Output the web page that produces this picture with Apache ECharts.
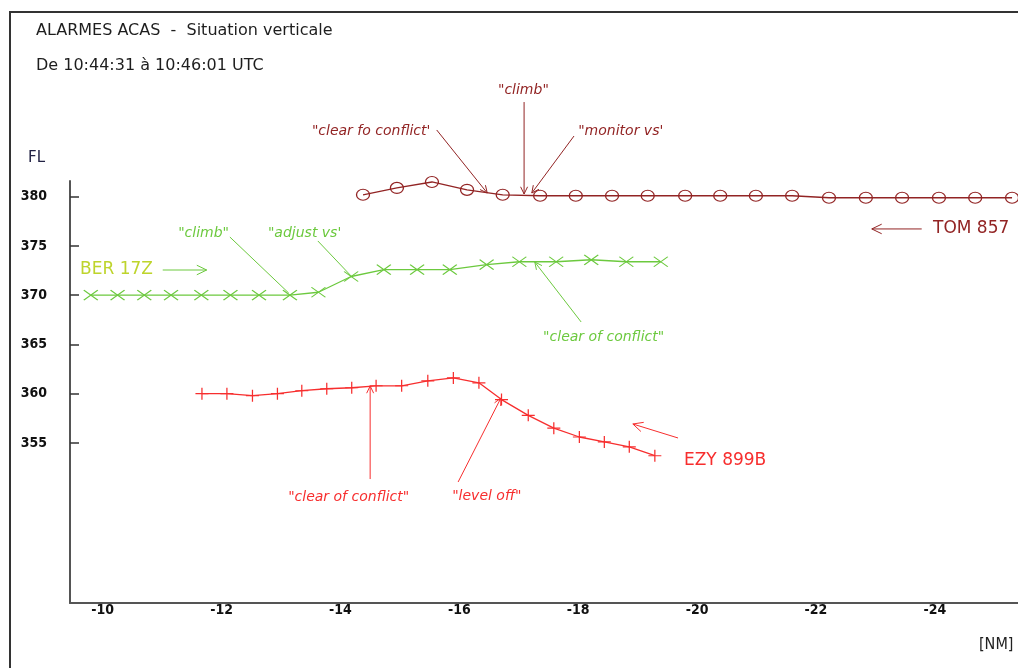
<!DOCTYPE html>
<html>
<head>
<meta charset="utf-8">
<script src="https://cdn.jsdelivr.net/npm/echarts@6/dist/echarts.min.js"></script>
<style>
  html, body { margin: 0; padding: 0; background: #ffffff; }
  #chart { width: 1018px; height: 668px; }
</style>
</head>
<body>
<div id="chart"></div>
<script>
// Distance to closest point of approach (NM) and flight level for each track
const tomDist = [-14.38, -14.95, -15.54, -16.13, -16.73, -17.36, -17.96, -18.57, -19.17, -19.80,
                 -20.39, -20.99, -21.60, -22.22, -22.84, -23.45, -24.07, -24.68, -25.30];
const tomFL   = [380.2, 380.9, 381.5, 380.7, 380.2, 380.1, 380.1, 380.1, 380.1, 380.1,
                 380.1, 380.1, 380.1, 379.9, 379.9, 379.9, 379.9, 379.9, 379.9];

const berDist = [-9.80, -10.25, -10.70, -11.15, -11.66, -12.15, -12.63, -13.15, -13.63, -14.18,
                 -14.73, -15.29, -15.84, -16.46, -17.01, -17.63, -18.22, -18.81, -19.39];
const berFL   = [370, 370, 370, 370, 370, 370, 370, 370, 370.3, 371.9,
                 372.6, 372.6, 372.6, 373.1, 373.4, 373.4, 373.6, 373.4, 373.4];

const ezyDist = [-11.67, -12.09, -12.52, -12.94, -13.35, -13.77, -14.19, -14.60, -15.03, -15.47,
                 -15.90, -16.33, -16.71, -17.16, -17.59, -18.02, -18.44, -18.86, -19.29];
const ezyFL   = [360.0, 360.0, 359.8, 360.0, 360.3, 360.5, 360.6, 360.8, 360.8, 361.3,
                 361.6, 361.1, 359.4, 357.8, 356.5, 355.6, 355.1, 354.6, 353.7];

const distTicks = [-10, -12, -14, -16, -18, -20, -22, -24];
const flTicks   = [355, 360, 365, 370, 375, 380];

const COL_TOM = '#922424';
const COL_BER = '#6cc93e';
const COL_BER_LABEL = '#bed42c';
const COL_EZY = '#f72e2e';

const NARROW = "'Liberation Sans Narrow','DejaVu Sans Condensed','Liberation Sans',sans-serif";
const UI = "'DejaVu Sans',sans-serif";

// ACAS advisories (text) with their pointer lines, in axis coordinates
const callouts = [
  { color: COL_TOM, text: '"clear fo conflict\'', at: [-13.52, 386.68], from: [-15.62, 386.78], to: [-16.47, 380.38], head: true },
  { color: COL_TOM, text: '"climb"',               at: [-16.65, 390.84], from: [-17.09, 389.62], to: [-17.09, 380.28], head: true },
  { color: COL_TOM, text: '"monitor vs\'',         at: [-18.00, 386.68], from: [-17.93, 386.17], to: [-17.22, 380.38], head: true },
  { color: COL_BER, text: '"climb"',               at: [-11.27, 376.32], from: [-12.14, 375.91], to: [-13.13, 370.22], head: false },
  { color: COL_BER, text: '"adjust vs\'',          at: [-12.78, 376.32], from: [-13.62, 375.51], to: [-14.18, 371.95], head: false },
  { color: COL_BER, text: '"clear of conflict"',   at: [-17.41, 365.76], from: [-18.05, 367.28], to: [-17.27, 373.37], head: true },
  { color: COL_EZY, text: '"clear of conflict"',   at: [-13.12, 349.51], from: [-14.50, 351.33], to: [-14.50, 360.78], head: true },
  { color: COL_EZY, text: '"level off"',           at: [-15.88, 349.61], from: [-15.98, 351.03], to: [-16.70, 359.56], head: true }
];

// Callsigns with direction-of-flight arrows
const callsigns = [
  { color: COL_TOM, text: 'TOM 857',  at: [-23.97, 376.73], from: [-23.78, 376.73], to: [-22.94, 376.73] },
  { color: COL_BER_LABEL, arrowColor: COL_BER, text: 'BER 17Z', at: [-9.62, 372.56], from: [-11.01, 372.56], to: [-11.75, 372.56] },
  { color: COL_EZY, text: 'EZY 899B', at: [-19.78, 353.16], from: [-19.68, 355.50], to: [-18.92, 356.92] }
];

const SYM_PLUS  = 'path://M0,5L10,5M5,0L5,10';
const SYM_CROSS = 'path://M0,0L10,10M10,0L0,10';

function pairs(xs, ys) { return xs.map((x, i) => [x, ys[i]]); }

function track(name, xs, ys, color, symbol, size) {
  return {
    name, type: 'line', data: pairs(xs, ys),
    symbol, symbolSize: size, showSymbol: true, animation: false,
    lineStyle: { color, width: 1.3 },
    itemStyle: { color: 'transparent', borderColor: color, borderWidth: 1.2 },
    emphasis: { disabled: true }
  };
}

const chart = echarts.init(document.getElementById('chart'), null, { renderer: 'canvas' });

chart.setOption({
  backgroundColor: '#ffffff',
  animation: false,
  grid: { left: 70, right: 0, top: 181, bottom: 65, containLabel: false },
  xAxis: {
    type: 'value', inverse: true, min: -25.4, max: -9.45,
    axisLine: { lineStyle: { color: '#555555', width: 2 } },
    axisTick: { show: false },
    splitLine: { show: false },
    axisLabel: {
      customValues: distTicks, margin: 0, color: '#111111',
      fontFamily: NARROW, fontWeight: 'bold', fontSize: 14
    }
  },
  yAxis: {
    type: 'value', min: 338.74, max: 381.6,
    axisLine: { show: true, lineStyle: { color: '#555555', width: 2 } },
    axisTick: { show: true, inside: true, length: 9, customValues: flTicks, lineStyle: { color: '#333333', width: 1.5 } },
    splitLine: { show: false },
    axisLabel: {
      customValues: flTicks, margin: 23, color: '#111111',
      fontFamily: NARROW, fontWeight: 'bold', fontSize: 14
    }
  },
  series: [
    track('TOM 857', tomDist, tomFL, COL_TOM, 'circle', [13, 11]),
    track('BER 17Z', berDist, berFL, COL_BER, SYM_CROSS, [14, 10]),
    track('EZY 899B', ezyDist, ezyFL, COL_EZY, SYM_PLUS, [13, 12])
  ]
});

function px(p) { return chart.convertToPixel({ gridIndex: 0 }, p); }

function arrowLines(a, b, color, len) {
  const out = [{ type: 'line', shape: { x1: a[0], y1: a[1], x2: b[0], y2: b[1] }, style: { stroke: color, lineWidth: 1 } }];
  if (len) {
    const ang = Math.atan2(b[1] - a[1], b[0] - a[0]);
    [0.45, -0.45].forEach(d => {
      const t = ang + Math.PI + d;
      out.push({ type: 'line', shape: { x1: b[0], y1: b[1], x2: b[0] + len * Math.cos(t), y2: b[1] + len * Math.sin(t) },
                 style: { stroke: color, lineWidth: 1 } });
    });
  }
  return out;
}

const g = [];
// frame
g.push({ type: 'polyline', shape: { points: [[10, 668], [10, 12], [1018, 12]] }, style: { stroke: '#333333', lineWidth: 2, fill: null } });
// headings
g.push({ type: 'text', x: 36, y: 31, style: { text: 'ALARMES ACAS  -  Situation verticale', fill: '#1e1e1e', font: '16px ' + UI, verticalAlign: 'middle' } });
g.push({ type: 'text', x: 36, y: 66, style: { text: 'De 10:44:31 à 10:46:01 UTC', fill: '#1e1e1e', font: '16px ' + UI, verticalAlign: 'middle' } });
g.push({ type: 'text', x: 28, y: 158, style: { text: 'FL', fill: '#222244', font: '15px ' + UI, verticalAlign: 'middle' } });
g.push({ type: 'text', x: 979, y: 645, style: { text: '[NM]', fill: '#222222', font: '16px ' + NARROW, verticalAlign: 'middle' } });

callouts.forEach(c => {
  const t = px(c.at);
  g.push({ type: 'text', x: t[0], y: t[1], style: { text: c.text, fill: c.color, font: 'italic 14px ' + UI, verticalAlign: 'middle' } });
  arrowLines(px(c.from), px(c.to), c.color, c.head ? 8 : 0).forEach(e => g.push(e));
});

callsigns.forEach(c => {
  const t = px(c.at);
  g.push({ type: 'text', x: t[0], y: t[1], style: { text: c.text, fill: c.color, font: '17px ' + UI, verticalAlign: 'middle' } });
  arrowLines(px(c.from), px(c.to), c.arrowColor || c.color, 11).forEach(e => g.push(e));
});

chart.setOption({ graphic: g });
</script>
</body>
</html>
